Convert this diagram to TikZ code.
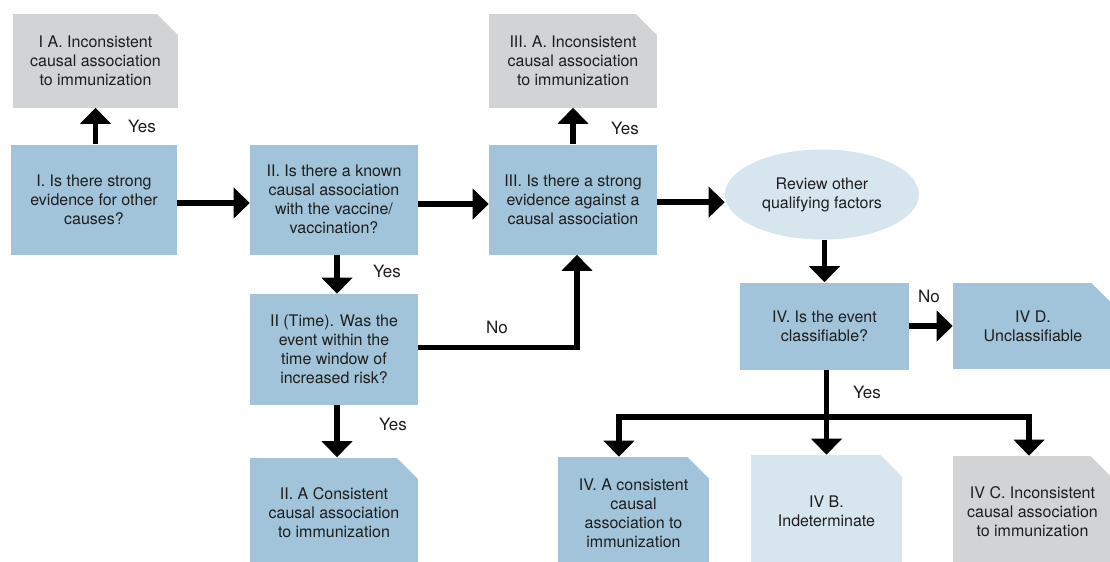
\documentclass[tikz,border=0pt]{standalone}
\usepackage{fontspec}
\setmainfont{TeX Gyre Heros}
\usetikzlibrary{arrows.meta,shapes.geometric}

\definecolor{qblue}{RGB}{161,196,218}
\definecolor{qgray}{RGB}{210,211,213}
\definecolor{qpale}{RGB}{215,229,239}
\definecolor{ink}{RGB}{30,30,30}

\newcommand{\boxfont}{\fontsize{12pt}{14.25pt}\selectfont}
\newcommand{\lblfont}{\fontsize{12.75pt}{15pt}\selectfont}

\tikzset{
  sz/.style 2 args={minimum width=#1*0.75pt, minimum height=#2*0.75pt},
  box/.style={rectangle, fill=qblue, align=center, inner sep=0pt,
              text=ink, font=\boxfont},
  % outcome boxes: top-right corner cut off
  doc/.style={box, path picture={
      \fill[white]
        ([xshift=-17pt,yshift=1pt]path picture bounding box.north east) --
        ([xshift=1pt,yshift=1pt]path picture bounding box.north east) --
        ([xshift=1pt,yshift=-17pt]path picture bounding box.north east) -- cycle;}},
  oval/.style={ellipse, fill=qpale, align=center, inner sep=0pt,
               text=ink, font=\boxfont},
  lbl/.style={text=ink, font=\lblfont, inner sep=0pt},
  arr/.style={line width=4.2pt, draw=black, line join=miter,
              -{Triangle[length=12pt,width=22.5pt]}},
}

\begin{document}
\begin{tikzpicture}[x=0.75pt, y=-0.75pt]
\useasboundingbox (0,0) rectangle (1110,561);
\clip (0,0) rectangle (1110,561);

% questions
\node[box, sz={166}{110}] (I) at (94,199.5)
  {I. Is there strong\\evidence for other\\causes?};
\node[box, sz={168}{110}] (II) at (334,199.5)
  {II. Is there a known\\causal association\\with the vaccine/\\vaccination?};
\node[box, sz={168}{110}] (III) at (573,199.5)
  {III. Is there a strong\\evidence against a\\causal association};
\node[box, sz={168}{111}] (IIT) at (334,349.5)
  {II (Time). Was the\\event within the\\time window of\\increased risk?};
\node[oval, sz={194}{90}] (rev) at (822,194.5)
  {Review other\\qualifying factors};
\node[box, sz={169}{87}] (IV) at (824.5,326)
  {IV. Is the event\\classifiable?};

% outcomes
\node[doc, fill=qgray, sz={165}{94}] (IA) at (95.5,60.5)
  {I A. Inconsistent\\causal association\\to immunization};
\node[doc, fill=qgray, sz={168}{94}] (IIIA) at (573,60.5)
  {III. A. Inconsistent\\causal association\\to immunization};
\node[doc, sz={168}{110}] (IIA) at (334,512.5)
  {II. A Consistent\\causal association\\to immunization};
\node[doc, sz={160}{86}] (IVD) at (1033,326)
  {IV D.\\Unclassifiable};
\node[doc, sz={151}{112}] (IVA) at (633.5,513)
  {IV. A consistent\\causal\\association to\\immunization};
\node[doc, fill=qpale, sz={151}{112}] (IVB) at (826.5,511)
  {IV B.\\Indeterminate};
\node[doc, fill=qgray, sz={159}{112}] (IVC) at (1032.5,512)
  {IV C. Inconsistent\\causal association\\to immunization};

% connectors
\draw[arr] (I.north -| IA.south) -- (IA.south);
\draw[arr] ([yshift=-2.6pt]I.east) -- ([yshift=-2.6pt]I.east -| II.west);
\draw[arr] ([yshift=-3.4pt]II.east) -- ([yshift=-3.4pt]II.east -| III.west);
\draw[arr] ([yshift=-2pt]III.east) -- ([yshift=-2pt]III.east -| rev.west);
\draw[arr] (III.north) -- (IIIA.south);
\draw[arr] (rev.south -| IV.north) -- (IV.north);
\draw[arr] (IV.east) -- (IV.east -| IVD.west);
\draw[arr] ([xshift=2.25pt]II.south) -- ([xshift=2.25pt]IIT.north);
\draw[arr] ([xshift=2.25pt]IIT.south) -- ([xshift=2.25pt]IIA.north);
\draw[arr] ([yshift=1.5pt]IIT.east) -| ([xshift=3pt]III.south);

\coordinate (split) at (826,417);
\draw[arr] (IV.south -| IVB.north) -- (IVB.north);
\draw[arr] (split) -| ([xshift=-10.9pt]IVA.north);
\draw[arr] (split) -| ([xshift=-2.6pt]IVC.north);

% branch labels
\node[lbl] (y1) at (142,126) {Yes};
\node[lbl] (y2) at (625,128) {Yes};
\node[lbl] (y3) at (387,271) {Yes};
\node[lbl] (y4) at (393,424) {Yes};
\node[lbl] (y5) at (867,392) {Yes};
\node[lbl] (n1) at (929,296) {No};
\node[lbl] (n2) at (497,327) {No};
\end{tikzpicture}
\end{document}
